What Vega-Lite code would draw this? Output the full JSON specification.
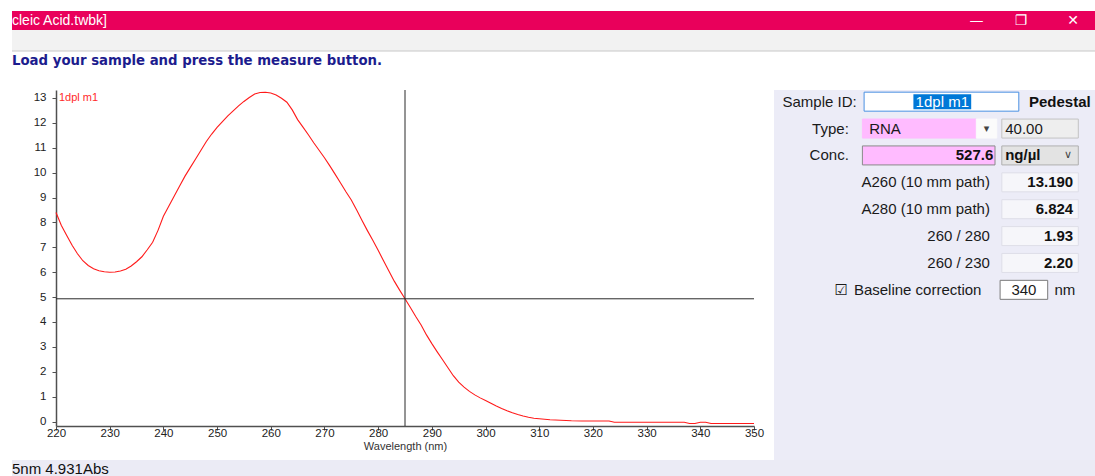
{
  "$schema": "https://vega.github.io/schema/vega-lite/v6.json",
  "background": "#ffffff",
  "padding": {"left": 11, "top": 11, "right": 0, "bottom": 0},
  "config": {"view": {"stroke": null}, "font": "Liberation Sans", "axis": {"labelOverlap": false}},
  "datasets": {
    "spectrum": [
      {"wavelength": 220, "absorbance": 8.40}, {"wavelength": 221, "absorbance": 7.88}, {"wavelength": 222, "absorbance": 7.47},
      {"wavelength": 223, "absorbance": 7.08}, {"wavelength": 224, "absorbance": 6.74}, {"wavelength": 225, "absorbance": 6.46},
      {"wavelength": 226, "absorbance": 6.27}, {"wavelength": 227, "absorbance": 6.14}, {"wavelength": 228, "absorbance": 6.06},
      {"wavelength": 229, "absorbance": 6.02}, {"wavelength": 230, "absorbance": 6.00}, {"wavelength": 231, "absorbance": 6.01},
      {"wavelength": 232, "absorbance": 6.05}, {"wavelength": 233, "absorbance": 6.12}, {"wavelength": 234, "absorbance": 6.25},
      {"wavelength": 235, "absorbance": 6.42}, {"wavelength": 236, "absorbance": 6.62}, {"wavelength": 237, "absorbance": 6.90},
      {"wavelength": 238, "absorbance": 7.20}, {"wavelength": 239, "absorbance": 7.68}, {"wavelength": 240, "absorbance": 8.25},
      {"wavelength": 241, "absorbance": 8.65}, {"wavelength": 242, "absorbance": 9.05}, {"wavelength": 243, "absorbance": 9.45},
      {"wavelength": 244, "absorbance": 9.85}, {"wavelength": 245, "absorbance": 10.20}, {"wavelength": 246, "absorbance": 10.55},
      {"wavelength": 247, "absorbance": 10.90}, {"wavelength": 248, "absorbance": 11.25}, {"wavelength": 249, "absorbance": 11.55},
      {"wavelength": 250, "absorbance": 11.82}, {"wavelength": 251, "absorbance": 12.05}, {"wavelength": 252, "absorbance": 12.28},
      {"wavelength": 253, "absorbance": 12.48}, {"wavelength": 254, "absorbance": 12.68}, {"wavelength": 255, "absorbance": 12.86},
      {"wavelength": 256, "absorbance": 13.02}, {"wavelength": 257, "absorbance": 13.16}, {"wavelength": 258, "absorbance": 13.22},
      {"wavelength": 259, "absorbance": 13.23}, {"wavelength": 260, "absorbance": 13.20}, {"wavelength": 261, "absorbance": 13.12},
      {"wavelength": 262, "absorbance": 12.99}, {"wavelength": 263, "absorbance": 12.83}, {"wavelength": 264, "absorbance": 12.52},
      {"wavelength": 265, "absorbance": 12.13}, {"wavelength": 266, "absorbance": 11.83}, {"wavelength": 267, "absorbance": 11.52},
      {"wavelength": 268, "absorbance": 11.20}, {"wavelength": 269, "absorbance": 10.90}, {"wavelength": 270, "absorbance": 10.60},
      {"wavelength": 271, "absorbance": 10.27}, {"wavelength": 272, "absorbance": 9.93}, {"wavelength": 273, "absorbance": 9.58},
      {"wavelength": 274, "absorbance": 9.23}, {"wavelength": 275, "absorbance": 8.90}, {"wavelength": 276, "absorbance": 8.50},
      {"wavelength": 277, "absorbance": 8.08}, {"wavelength": 278, "absorbance": 7.67}, {"wavelength": 279, "absorbance": 7.28},
      {"wavelength": 280, "absorbance": 6.88}, {"wavelength": 281, "absorbance": 6.46}, {"wavelength": 282, "absorbance": 6.05},
      {"wavelength": 283, "absorbance": 5.64}, {"wavelength": 284, "absorbance": 5.28}, {"wavelength": 285, "absorbance": 4.93},
      {"wavelength": 286, "absorbance": 4.58}, {"wavelength": 287, "absorbance": 4.22}, {"wavelength": 288, "absorbance": 3.88},
      {"wavelength": 289, "absorbance": 3.48}, {"wavelength": 290, "absorbance": 3.13}, {"wavelength": 291, "absorbance": 2.80},
      {"wavelength": 292, "absorbance": 2.48}, {"wavelength": 293, "absorbance": 2.16}, {"wavelength": 294, "absorbance": 1.84},
      {"wavelength": 295, "absorbance": 1.58}, {"wavelength": 296, "absorbance": 1.38}, {"wavelength": 297, "absorbance": 1.21},
      {"wavelength": 298, "absorbance": 1.07}, {"wavelength": 299, "absorbance": 0.95}, {"wavelength": 300, "absorbance": 0.84},
      {"wavelength": 301, "absorbance": 0.73}, {"wavelength": 302, "absorbance": 0.62}, {"wavelength": 303, "absorbance": 0.52},
      {"wavelength": 304, "absorbance": 0.43}, {"wavelength": 305, "absorbance": 0.35}, {"wavelength": 306, "absorbance": 0.28},
      {"wavelength": 307, "absorbance": 0.22}, {"wavelength": 308, "absorbance": 0.17}, {"wavelength": 309, "absorbance": 0.13},
      {"wavelength": 310, "absorbance": 0.11}, {"wavelength": 312, "absorbance": 0.07}, {"wavelength": 314, "absorbance": 0.05},
      {"wavelength": 316, "absorbance": 0.03}, {"wavelength": 318, "absorbance": 0.02}, {"wavelength": 320, "absorbance": 0.02},
      {"wavelength": 323, "absorbance": 0.02}, {"wavelength": 324, "absorbance": -0.03}, {"wavelength": 330, "absorbance": -0.03},
      {"wavelength": 337, "absorbance": -0.03}, {"wavelength": 338, "absorbance": -0.08}, {"wavelength": 339, "absorbance": -0.08},
      {"wavelength": 340, "absorbance": -0.03}, {"wavelength": 341, "absorbance": -0.03}, {"wavelength": 342, "absorbance": -0.08},
      {"wavelength": 346, "absorbance": -0.08}, {"wavelength": 350, "absorbance": -0.08}
    ],
    "cursor": [{"wavelength": 285, "absorbance": 4.931}],
    "boxes": [
      {"row": 1, "col": 5.3, "colEnd": 14.4, "kind": "textbox"},
      {"row": 2, "col": 5.2, "colEnd": 11.9, "kind": "pink"},
      {"row": 2, "col": 11.9, "colEnd": 13.1, "kind": "dropdown"},
      {"row": 2, "col": 13.4, "colEnd": 17.9, "kind": "readonly"},
      {"row": 3, "col": 5.2, "colEnd": 13.0, "kind": "pinkSunken"},
      {"row": 3, "col": 13.4, "colEnd": 17.9, "kind": "combo"},
      {"row": 4, "col": 13.4, "colEnd": 17.9, "kind": "result"},
      {"row": 5, "col": 13.4, "colEnd": 17.9, "kind": "result"},
      {"row": 6, "col": 13.4, "colEnd": 17.9, "kind": "result"},
      {"row": 7, "col": 13.4, "colEnd": 17.9, "kind": "result"},
      {"row": 8, "col": 13.3, "colEnd": 16.1, "kind": "input"},
      {"row": 1, "col": 8.2, "colEnd": 11.6, "kind": "selection"}
    ],
    "panelText": [
      {"row": 1, "col": 0.5, "role": "L", "text": "Sample ID:"},
      {"row": 1, "col": 9.9, "role": "SEL", "text": "1dpl m1"},
      {"row": 1, "col": 15, "role": "BL", "text": "Pedestal"},
      {"row": 2, "col": 4.4, "role": "R", "text": "Type:"},
      {"row": 2, "col": 5.6, "role": "L", "text": "RNA"},
      {"row": 2, "col": 12.5, "role": "ARR", "text": "▾"},
      {"row": 2, "col": 13.6, "role": "L", "text": "40.00"},
      {"row": 3, "col": 4.4, "role": "R", "text": "Conc."},
      {"row": 3, "col": 12.9, "role": "BR", "text": "527.6"},
      {"row": 3, "col": 13.6, "role": "BL", "text": "ng/µl"},
      {"row": 3, "col": 17.3, "role": "ARR", "text": "∨"},
      {"row": 4, "col": 12.7, "role": "R", "text": "A260 (10 mm path)"},
      {"row": 4, "col": 17.6, "role": "BR", "text": "13.190"},
      {"row": 5, "col": 12.7, "role": "R", "text": "A280 (10 mm path)"},
      {"row": 5, "col": 17.6, "role": "BR", "text": "6.824"},
      {"row": 6, "col": 12.7, "role": "R", "text": "260 / 280"},
      {"row": 6, "col": 17.6, "role": "BR", "text": "1.93"},
      {"row": 7, "col": 12.7, "role": "R", "text": "260 / 230"},
      {"row": 7, "col": 17.6, "role": "BR", "text": "2.20"},
      {"row": 8, "col": 3.95, "role": "C", "text": "☑"},
      {"row": 8, "col": 4.7, "role": "L", "text": "Baseline correction"},
      {"row": 8, "col": 14.7, "role": "C", "text": "340"},
      {"row": 8, "col": 16.5, "role": "L", "text": "nm"}
    ]
  },
  "spacing": 0,
  "vconcat": [
    {
      "width": 1084,
      "height": 19,
      "view": {"fill": "#e9005b", "stroke": null},
      "data": {"values": [
        {"item": "file", "text": "cleic Acid.twbk]"},
        {"item": "controls", "text": "—\u00a0\u00a0\u00a0\u00a0\u00a0\u00a0\u00a0❐\u00a0\u00a0\u00a0\u00a0\u00a0\u00a0\u00a0\u00a0\u00a0✕"}
      ]},
      "encoding": {
        "x": {"field": "item", "type": "nominal", "scale": {"type": "point", "domain": ["file", "controls"], "padding": 0}, "axis": null},
        "text": {"field": "text"}
      },
      "layer": [
        {"transform": [{"filter": "datum.item === 'file'"}], "mark": {"type": "text", "align": "left", "baseline": "middle", "color": "#ffffff", "fontSize": 14}},
        {"transform": [{"filter": "datum.item === 'controls'"}], "mark": {"type": "text", "align": "right", "baseline": "middle", "dx": -17, "color": "#ffffff", "fontSize": 14, "font": "DejaVu Sans"}}
      ]
    },
    {
      "width": 1084,
      "height": 21,
      "view": {"fill": "#f2f2f2", "stroke": null},
      "data": {"values": [{"edge": "bottom"}]},
      "mark": {"type": "rule", "color": "#c8c8c8", "strokeWidth": 1},
      "encoding": {"y": {"field": "edge", "type": "nominal", "scale": {"type": "point", "align": 1, "padding": 0}, "axis": null}}
    },
    {
      "width": 1084,
      "height": 37,
      "data": {"values": [{"msg": "Load your sample and press the measure button."}]},
      "mark": {"type": "text", "align": "left", "baseline": "middle", "font": "DejaVu Sans", "fontWeight": "bold", "fontSize": 13.3, "color": "#1c1c8e"},
      "encoding": {
        "text": {"field": "msg"},
        "x": {"field": "msg", "type": "nominal", "scale": {"type": "point", "align": 0, "padding": 0}, "axis": null},
        "y": {"field": "msg", "type": "nominal", "scale": {"type": "point", "align": 0.243, "padding": 0}, "axis": null}
      }
    },
    {
      "spacing": 10,
      "hconcat": [
        {
          "width": 1,
          "height": 1,
          "data": {"values": []},
          "mark": "point",
          "encoding": {}
        },
        {
          "width": 698,
          "height": 336,
          "view": {"fill": "#ffffff", "stroke": null},
          "layer": [
            {
              "data": {"name": "spectrum"},
              "mark": {"type": "line", "color": "#ff1a1a", "strokeWidth": 1.1},
              "encoding": {
                "x": {
                  "field": "wavelength", "type": "quantitative",
                  "scale": {"domain": [220, 350], "nice": false, "zero": false},
                  "axis": {
                    "title": "Wavelength (nm)",
                    "values": [220,222.5,225,227.5,230,232.5,235,237.5,240,242.5,245,247.5,250,252.5,255,257.5,260,262.5,265,267.5,270,272.5,275,277.5,280,282.5,285,287.5,290,292.5,295,297.5,300,302.5,305,307.5,310,312.5,315,317.5,320,322.5,325,327.5,330,332.5,335,337.5,340,342.5,345,347.5,350],
                    "labelExpr": "datum.value % 10 === 0 ? datum.label : ''",
                    "tickSize": {"condition": {"test": "datum.value % 10 === 0", "value": 4}, "value": 3},
                    "labelPadding": -3, "labelFontSize": 11.5, "labelColor": "#222222", "labelOverlap": false, "labelFlush": false,
                    "titleFontSize": 11, "titleFontWeight": "normal", "titleColor": "#333333", "titlePadding": 2,
                    "domainColor": "#505050", "domainWidth": 1.5, "tickColor": "#505050", "grid": false
                  }
                },
                "y": {
                  "field": "absorbance", "type": "quantitative",
                  "scale": {"domain": [-0.18, 13.32], "nice": false, "zero": false},
                  "axis": {
                    "title": null,
                    "values": [0,1,2,3,4,5,6,7,8,9,10,11,12,13],
                    "tickCount": 14, "tickSize": 4, "labelPadding": 6, "labelFontSize": 11.5, "labelColor": "#222222",
                    "labelOverlap": false, "labelFlush": false, "domainColor": "#505050", "domainWidth": 1.5,
                    "tickColor": "#505050", "grid": false, "minExtent": 33, "maxExtent": 33
                  }
                }
              }
            },
            {
              "data": {"name": "cursor"},
              "mark": {"type": "rule", "color": "#2a2a2a", "strokeWidth": 1},
              "encoding": {
                "y": {
                  "field": "absorbance", "type": "quantitative",
                  "scale": {"domain": [-0.18, 13.32], "nice": false, "zero": false},
                  "axis": {
                    "title": null,
                    "values": [0,1,2,3,4,5,6,7,8,9,10,11,12,13],
                    "tickCount": 14, "tickSize": 4, "labelPadding": 6, "labelFontSize": 11.5, "labelColor": "#222222",
                    "labelOverlap": false, "labelFlush": false, "domainColor": "#505050", "domainWidth": 1.5,
                    "tickColor": "#505050", "grid": false, "minExtent": 33, "maxExtent": 33
                  }
                }
              }
            },
            {
              "data": {"name": "cursor"},
              "mark": {"type": "rule", "color": "#2a2a2a", "strokeWidth": 1},
              "encoding": {
                "x": {
                  "field": "wavelength", "type": "quantitative",
                  "scale": {"domain": [220, 350], "nice": false, "zero": false},
                  "axis": {
                    "title": "Wavelength (nm)",
                    "values": [220,222.5,225,227.5,230,232.5,235,237.5,240,242.5,245,247.5,250,252.5,255,257.5,260,262.5,265,267.5,270,272.5,275,277.5,280,282.5,285,287.5,290,292.5,295,297.5,300,302.5,305,307.5,310,312.5,315,317.5,320,322.5,325,327.5,330,332.5,335,337.5,340,342.5,345,347.5,350],
                    "labelExpr": "datum.value % 10 === 0 ? datum.label : ''",
                    "tickSize": {"condition": {"test": "datum.value % 10 === 0", "value": 4}, "value": 3},
                    "labelPadding": -3, "labelFontSize": 11.5, "labelColor": "#222222", "labelOverlap": false, "labelFlush": false,
                    "titleFontSize": 11, "titleFontWeight": "normal", "titleColor": "#333333", "titlePadding": 2,
                    "domainColor": "#505050", "domainWidth": 1.5, "tickColor": "#505050", "grid": false
                  }
                }
              }
            },
            {
              "data": {"name": "spectrum"},
              "mark": {"type": "text", "align": "left", "baseline": "top", "dx": 3, "color": "#ff2a2a", "fontSize": 11},
              "encoding": {
                "x": {"aggregate": "min", "field": "wavelength", "type": "quantitative", "title": "Wavelength (nm)"},
                "y": {"aggregate": "max", "field": "absorbance", "type": "quantitative", "title": null},
                "text": {"value": "1dpl m1"}
              }
            }
          ]
        },
        {
          "width": 323,
          "height": 370,
          "view": {"fill": "#ececf7", "stroke": null},
          "encoding": {
            "x": {"field": "col", "type": "quantitative", "scale": {"domain": [0, 19], "nice": false, "zero": false}, "axis": null},
            "y": {"field": "row", "type": "quantitative", "scale": {"domain": [0.566, 14.33], "reverse": true, "nice": false, "zero": false}, "axis": null}
          },
          "layer": [
            {
              "data": {"name": "boxes"},
              "transform": [{"filter": "datum.kind !== 'selection'"}],
              "mark": {"type": "rect", "height": 19, "strokeWidth": 1},
              "encoding": {
                "x2": {"field": "colEnd"},
                "fill": {"field": "kind", "type": "nominal", "legend": null, "scale": {
                  "domain": ["textbox", "pink", "dropdown", "readonly", "pinkSunken", "combo", "result", "input"],
                  "range": ["#ffffff", "#ffbbff", "#fbfbfb", "#eeeeee", "#ffbbff", "#e3e3e3", "#f6f6fa", "#ffffff"]}},
                "stroke": {"field": "kind", "type": "nominal", "legend": null, "scale": {
                  "domain": ["textbox", "pink", "dropdown", "readonly", "pinkSunken", "combo", "result", "input"],
                  "range": ["#4a90e2", "#ffbbff", "#fbfbfb", "#c4c4c4", "#8a8a8a", "#b0b0b0", "#dedee8", "#7a7a7a"]}}
              }
            },
            {
              "data": {"name": "boxes"},
              "transform": [{"filter": "datum.kind === 'selection'"}],
              "mark": {"type": "rect", "height": 15, "color": "#0078d7"},
              "encoding": {"x2": {"field": "colEnd"}}
            },
            {
              "data": {"name": "panelText"},
              "transform": [{"filter": "datum.role === 'L'"}],
              "mark": {"type": "text", "align": "left", "baseline": "middle", "fontSize": 15, "color": "#1a1a1a"},
              "encoding": {"text": {"field": "text"}}
            },
            {
              "data": {"name": "panelText"},
              "transform": [{"filter": "datum.role === 'R'"}],
              "mark": {"type": "text", "align": "right", "baseline": "middle", "fontSize": 15, "color": "#1a1a1a"},
              "encoding": {"text": {"field": "text"}}
            },
            {
              "data": {"name": "panelText"},
              "transform": [{"filter": "datum.role === 'BL'"}],
              "mark": {"type": "text", "align": "left", "baseline": "middle", "fontSize": 15, "fontWeight": "bold", "color": "#111111"},
              "encoding": {"text": {"field": "text"}}
            },
            {
              "data": {"name": "panelText"},
              "transform": [{"filter": "datum.role === 'BR'"}],
              "mark": {"type": "text", "align": "right", "baseline": "middle", "fontSize": 15, "fontWeight": "bold", "color": "#111111"},
              "encoding": {"text": {"field": "text"}}
            },
            {
              "data": {"name": "panelText"},
              "transform": [{"filter": "datum.role === 'C'"}],
              "mark": {"type": "text", "align": "center", "baseline": "middle", "fontSize": 15, "color": "#1a1a1a", "font": "Liberation Sans, DejaVu Sans"},
              "encoding": {"text": {"field": "text"}}
            },
            {
              "data": {"name": "panelText"},
              "transform": [{"filter": "datum.role === 'SEL'"}],
              "mark": {"type": "text", "align": "center", "baseline": "middle", "fontSize": 15, "color": "#ffffff"},
              "encoding": {"text": {"field": "text"}}
            },
            {
              "data": {"name": "panelText"},
              "transform": [{"filter": "datum.role === 'ARR'"}],
              "mark": {"type": "text", "align": "center", "baseline": "middle", "fontSize": 11, "color": "#444444", "font": "DejaVu Sans"},
              "encoding": {"text": {"field": "text"}}
            }
          ]
        }
      ]
    },
    {
      "width": 1084,
      "height": 18,
      "view": {"fill": "#ebebf5", "stroke": null},
      "data": {"values": [{"status": "5nm 4.931Abs"}]},
      "mark": {"type": "text", "align": "left", "baseline": "middle", "fontSize": 15, "color": "#111111"},
      "encoding": {
        "x": {"field": "status", "type": "nominal", "scale": {"type": "point", "align": 0, "padding": 0}, "axis": null},
        "text": {"field": "status"}
      }
    }
  ]
}
